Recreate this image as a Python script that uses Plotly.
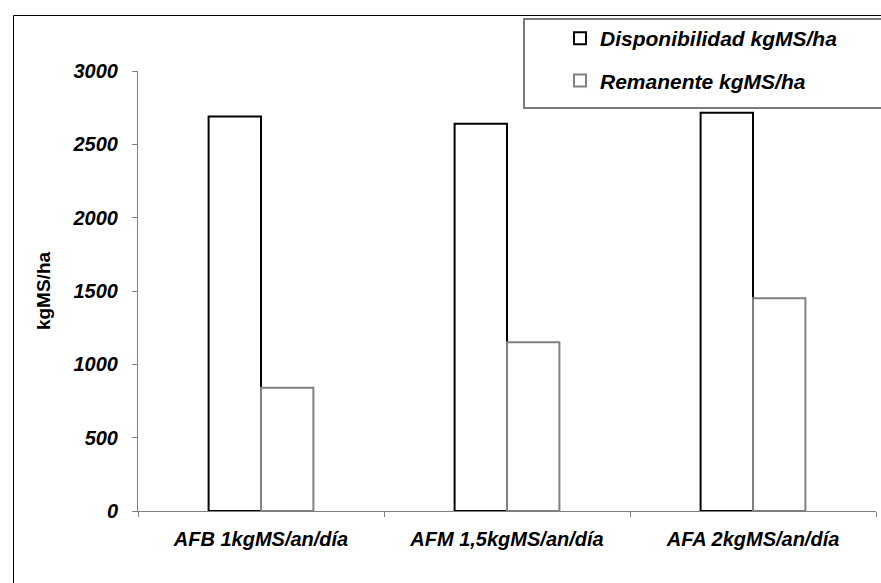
import plotly.graph_objects as go

categories = ["AFB 1kgMS/an/día", "AFM 1,5kgMS/an/día", "AFA 2kgMS/an/día"]
disponibilidad = [2690, 2640, 2715]
remanente = [840, 1150, 1450]
series_names = ["Disponibilidad kgMS/ha", "Remanente kgMS/ha"]
y_ticks = [0, 500, 1000, 1500, 2000, 2500, 3000]

W, H = 881, 583
ML, MR, MT, MB = 138, 5, 71, 72
pw, ph = W - ML - MR, H - MT - MB


def px_x(p):
    return (p - ML) / pw


def px_y(p):
    return (H - MB - p) / ph


FONT = "Liberation Sans, Arial, sans-serif"

fig = go.Figure()
fig.add_trace(go.Bar(
    x=categories, y=disponibilidad, name=series_names[0], legendgroup="a",
    marker=dict(color="white", line=dict(color="black", width=2)),
))
fig.add_trace(go.Bar(
    x=categories, y=remanente, name=series_names[1], legendgroup="b",
    marker=dict(color="white", line=dict(color="#808080", width=2)),
))

# outer chart border
fig.add_shape(type="rect", xref="paper", yref="paper",
              x0=px_x(13.5), x1=px_x(900), y0=px_y(600), y1=px_y(15.5),
              line=dict(color="black", width=1), fillcolor="rgba(0,0,0,0)", layer="below")
# legend box
fig.add_shape(type="rect", xref="paper", yref="paper",
              x0=px_x(524), x1=px_x(900), y0=px_y(108), y1=px_y(19),
              line=dict(color="#7a7a7a", width=2), fillcolor="white", layer="below")

fig.update_layout(
    width=W, height=H,
    margin=dict(l=ML, r=MR, t=MT, b=MB),
    paper_bgcolor="white", plot_bgcolor="white",
    barmode="group", bargap=0.574, bargroupgap=0,
    showlegend=True,
    legend=dict(
        x=px_x(560), y=px_y(18), xanchor="left", yanchor="top",
        bgcolor="rgba(0,0,0,0)", borderwidth=0,
        traceorder="grouped", tracegroupgap=12,
        font=dict(family=FONT, size=21, color="black", weight="bold", style="italic"),
    ),
    xaxis=dict(
        type="category", showline=True, linecolor="#808080", linewidth=1,
        ticks="outside", ticklen=5, tickcolor="#808080", tickson="boundaries",
        showgrid=False, zeroline=False, ticklabelstandoff=10,
        tickfont=dict(family=FONT, size=20, color="black", weight="bold", style="italic"),
    ),
    yaxis=dict(
        range=[0, 3000], tickvals=y_ticks, showline=True, linecolor="#808080", linewidth=1,
        ticks="outside", ticklen=5, tickcolor="#808080",
        showgrid=False, zeroline=False, ticklabelstandoff=10,
        tickfont=dict(family=FONT, size=20, color="black", weight="bold", style="italic"),
        title=dict(text="kgMS/ha", standoff=16,
                   font=dict(family=FONT, size=19, color="black", weight="bold")),
    ),
)

fig.write_html("out.html")
